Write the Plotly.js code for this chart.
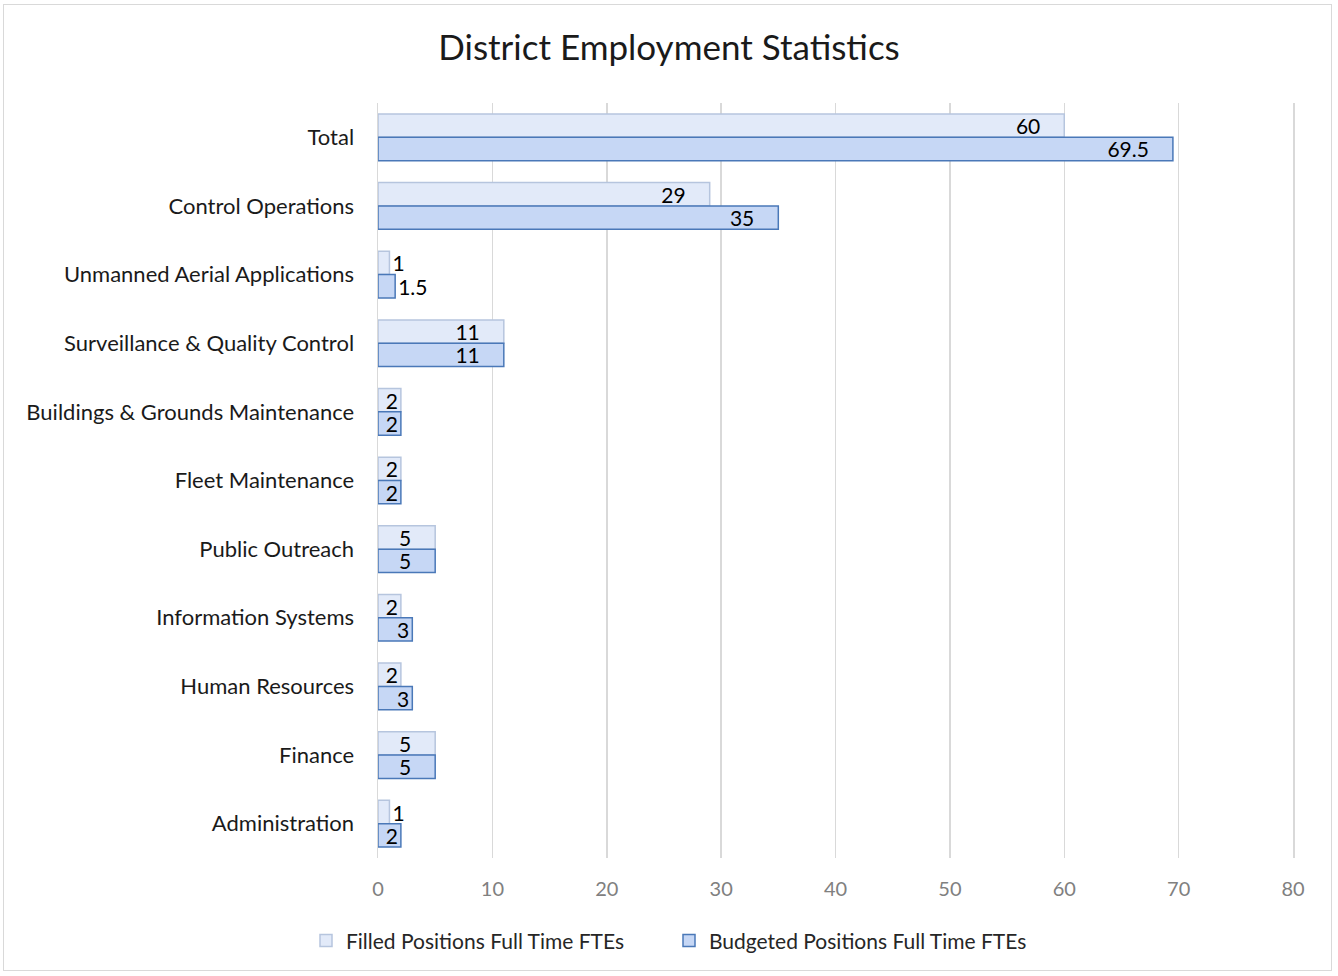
<!DOCTYPE html>
<html>
<head>
<meta charset="utf-8">
<script src="https://cdn.plot.ly/plotly-3.0.1.min.js"></script>
<style>
html,body{margin:0;padding:0;background:#fff;}
#frame{position:absolute;left:3px;top:4px;width:1329px;height:967px;border:1px solid #d9d9d9;box-sizing:border-box;}
#chart{position:absolute;left:0;top:0;width:1338px;height:976px;}
</style>
</head>
<body>
<div id="frame"></div>
<div id="chart"></div>
<script>
const categories = ["Total","Control Operations","Unmanned Aerial Applications","Surveillance & Quality Control","Buildings & Grounds Maintenance","Fleet Maintenance","Public Outreach","Information Systems","Human Resources","Finance","Administration"];
const filled = [60, 29, 1, 11, 2, 2, 5, 2, 2, 5, 1];
const budgeted = [69.5, 35, 1.5, 11, 2, 2, 5, 3, 3, 5, 2];
const seriesNames = ["Filled Positions Full Time FTEs", "Budgeted Positions Full Time FTEs"];
const xTicks = [0,10,20,30,40,50,60,70,80];

const font = "Lato, 'Open Sans', sans-serif";
const labelFont = {family: font, size: 21, color: "#000"};
const pad = "\u2002\u2002";

const traces = [
  {
    type: "bar", orientation: "h", name: seriesNames[0],
    y: categories, x: filled,
    text: filled.map(v => v >= 5 ? v + pad : String(v)), textposition: "auto", textangle: 0, constraintext: "none",
    insidetextanchor: "end",
    insidetextfont: labelFont, outsidetextfont: labelFont,
    marker: {color: "#e2eaf9", line: {color: "#b6c5de", width: 1.5}},
    hoverinfo: "x+y"
  },
  {
    type: "bar", orientation: "h", name: seriesNames[1],
    y: categories, x: budgeted,
    text: budgeted.map(v => v >= 5 ? v + pad : String(v)), textposition: "auto", textangle: 0, constraintext: "none",
    insidetextanchor: "end",
    insidetextfont: labelFont, outsidetextfont: labelFont,
    marker: {color: "#c6d7f5", line: {color: "#4a78b8", width: 1.5}},
    hoverinfo: "x+y"
  }
];

const layout = {
  width: 1338, height: 976,
  paper_bgcolor: "rgba(0,0,0,0)", plot_bgcolor: "rgba(0,0,0,0)",
  margin: {l: 378, r: 45, t: 103, b: 118},
  title: {text: "District Employment Statistics", x: 0.5, xref: "container", xanchor: "center", y: 0.951, yanchor: "middle", font: {family: font, size: 35, color: "#1a1a1a"}},
  barmode: "group", bargap: 0.32, bargroupgap: 0,
  xaxis: {
    range: [0, 80], tickvals: xTicks, ticktext: xTicks.map(String),
    showgrid: true, gridcolor: "#d9d9d9", gridwidth: 1.5,
    zeroline: false, showline: false, ticks: "",
    tickfont: {family: font, size: 20, color: "#808080"}, ticklabelstandoff: 17
  },
  yaxis: {
    autorange: "reversed", type: "category",
    showgrid: false, zeroline: false, ticks: "",
    showline: true, mirror: true, linecolor: "#d9d9d9", linewidth: 1.5, layer: "below traces",
    tickfont: {family: font, size: 22, color: "#1a1a1a"}, ticklabelstandoff: 18
  },
  showlegend: true,
  legend: {orientation: "h", x: 0.5, xref: "container", xanchor: "center", y: 0.036, yref: "container", yanchor: "middle",
    font: {family: font, size: 21, color: "#262626"}, itemwidth: 30, entrywidth: 318, entrywidthmode: "pixels", traceorder: "normal"},
  font: {family: font}
};

Plotly.newPlot("chart", traces, layout, {displayModeBar: false, staticPlot: true});
</script>
</body>
</html>
